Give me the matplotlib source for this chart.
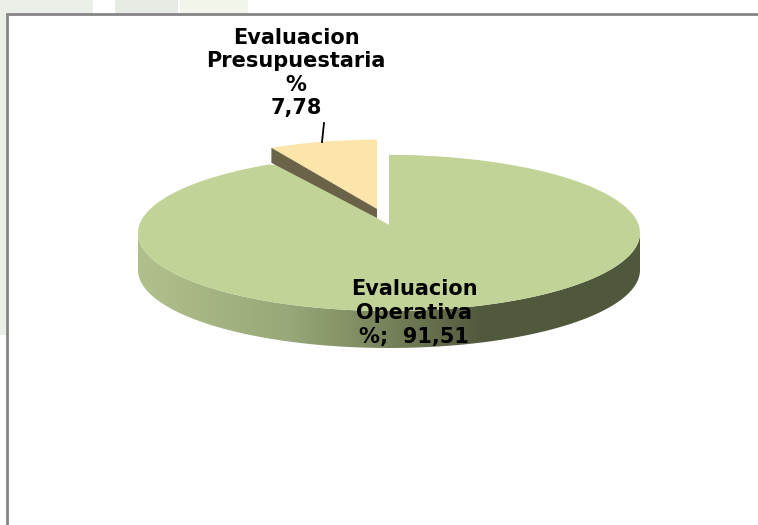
import matplotlib
matplotlib.use('Agg')
import matplotlib.pyplot as plt
from matplotlib.patches import Polygon, Rectangle, Wedge
from matplotlib.colors import LinearSegmentedColormap
import numpy as np

# datos de la grafica
categorias = ['Evaluacion Operativa', 'Evaluacion Presupuestaria']
valores = [91.51, 7.78]
etiquetas = ['Evaluacion\nOperativa\n%;  91,51', 'Evaluacion\nPresupuestaria\n%\n7,78']
colores = ['#c1d396', '#fbe5aa']

W, H = 758, 525
# elipse de la tarta en pixeles
CX, CY, RX, RY = 389, 233, 251, 78
PROF = 37
ESCALA = 0.89

fig = plt.figure(figsize=(W / 100, H / 100), dpi=100)
fondo = fig.add_axes([0, 0, 1, 1])
fondo.set_xlim(0, W)
fondo.set_ylim(H, 0)
fondo.axis('off')

# bandas claras que asoman detras del recuadro
for x0, x1, c in [(0, 93, '#eaefe8'), (115, 178, '#e6ebe4'), (180, 248, '#f2f5ea')]:
    fondo.add_patch(Rectangle((x0, 0), x1 - x0, 14, color=c, lw=0))
fondo.add_patch(Rectangle((0, 0), 7, 335, color='#eaefe8', lw=0))

# recuadro del grafico
fondo.plot([7, 7, W], [H, 14, 14], color='#858585', lw=2, solid_joinstyle='miter')

# pared lateral con degradado
t = np.linspace(0, np.pi, 200)
x_arc = CX + RX * np.cos(t)
y_arc = CY + RY * np.sin(t)
pared = np.column_stack([np.r_[x_arc, x_arc[::-1]], np.r_[y_arc, y_arc[::-1] + PROF]])
cmap = LinearSegmentedColormap.from_list('pared', [(0, '#b1c08b'), (0.3, '#98a878'), (0.5, '#76825a'),
                                                   (0.68, '#525a3e'), (1, '#50583c')])
img = fondo.imshow(np.linspace(0, 1, 256).reshape(1, -1), cmap=cmap, aspect='auto',
                   extent=(CX - RX, CX + RX, CY + RY + PROF, CY - 10), zorder=2)
fondo.set_xlim(0, W)
fondo.set_ylim(H, 0)
poly = Polygon(pared, transform=fondo.transData, fc='none', ec='none')
fondo.add_patch(poly)
img.set_clip_path(poly)

# tarta aplastada: los ejes no son iguales y el circulo sale como elipse
ax = fig.add_axes([(CX - RX) / W, 1 - (CY + RY) / H, 2 * RX / W, 2 * RY / H])
cunas, _ = ax.pie(valores, colors=colores, startangle=90, counterclock=False, radius=1,
                  wedgeprops={'linewidth': 0})
ax.set_aspect('auto')
ax.set_xlim(-1, 1)
ax.set_ylim(-1, 1)
ax.patch.set_alpha(0)

# la cuna grande tiene el vertice mas arriba por la perspectiva
principal = cunas[0]
ax.add_patch(Wedge((0, 8 / RY), 0.897, principal.theta1, principal.theta2, fc=colores[0], lw=0))

# cuna separada, mas pequena
pequena = cunas[1]
pequena.set_radius(ESCALA)
pequena.set_center(((377 - CX) / RX, (CY - 209) / RY))
pequena.set_zorder(5)

# canto oscuro de la cuna separada, el borde izquierdo es theta2
ang = np.deg2rad(pequena.theta2)
xc = 377 + ESCALA * RX * np.cos(ang)
yc = 209 - ESCALA * RY * np.sin(ang)
encima = fig.add_axes([0, 0, 1, 1])
encima.set_xlim(0, W)
encima.set_ylim(H, 0)
encima.axis('off')
encima.add_patch(Polygon([(xc, yc), (377, 209), (377, 218), (xc, yc + 15)], fc='#6b6347', lw=0))

# linea guia y etiquetas
encima.plot([324, 322], [123, 142], color='black', lw=1.3)
encima.text(296, 73, etiquetas[1], ha='center', va='center', fontsize=15, fontweight='bold',
            linespacing=1.22, color='black')
encima.text(414, 313, etiquetas[0], ha='center', va='center', fontsize=15, fontweight='bold',
            linespacing=1.22, color='black')

fig.savefig('out.png', dpi=100)
